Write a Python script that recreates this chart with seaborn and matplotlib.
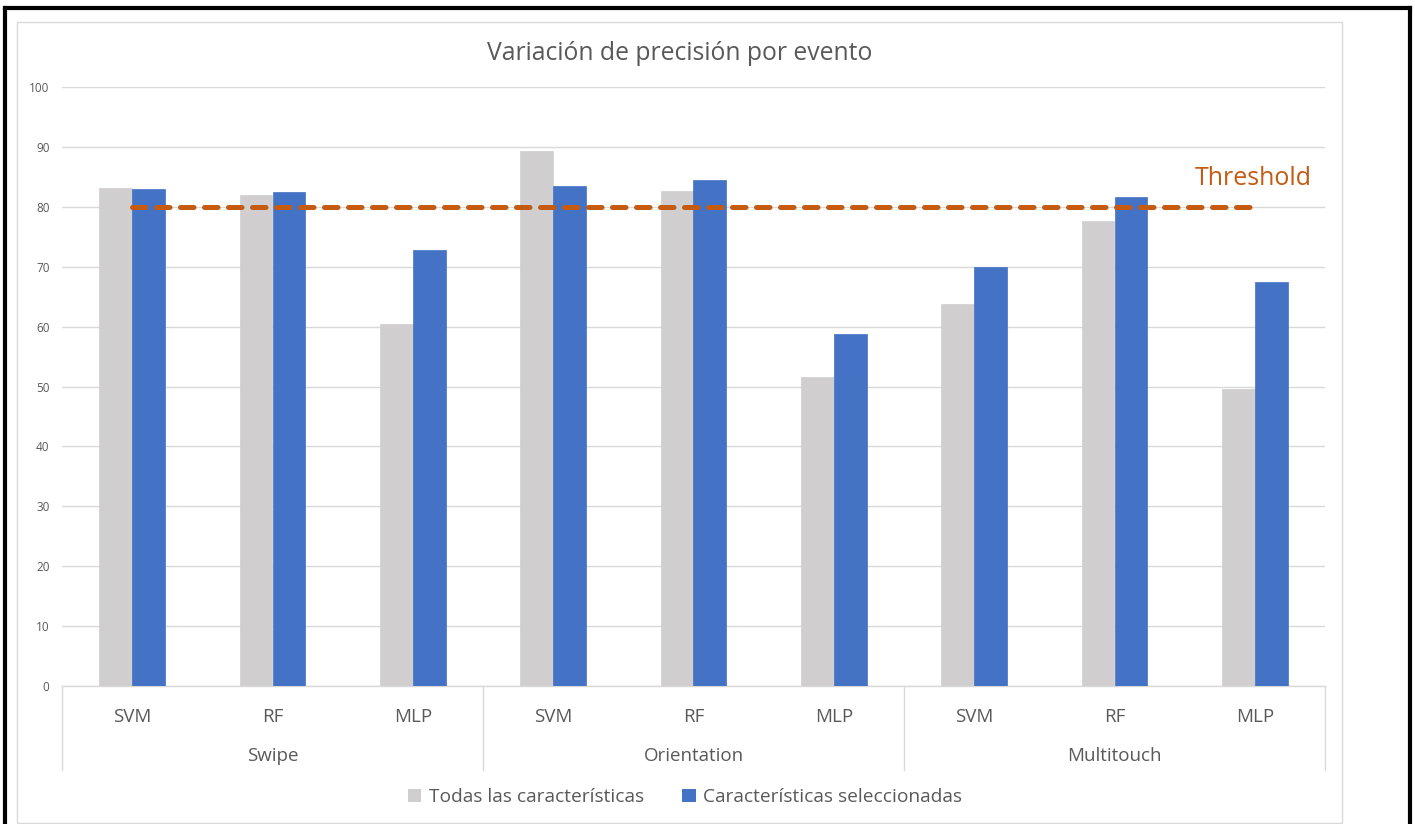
import matplotlib
matplotlib.use("Agg")
import matplotlib.pyplot as plt
import matplotlib.transforms as mtransforms
from matplotlib.patches import Rectangle
from matplotlib.lines import Line2D
import seaborn as sns
import pandas as pd

# ---------------- data ----------------
events = ["Swipe", "Orientation", "Multitouch"]
models = ["SVM", "RF", "MLP"]
series = ["Todas las características", "Características seleccionadas"]
todas = [83.2, 81.9, 60.4, 89.3, 82.6, 51.6, 63.8, 77.6, 49.6]
seleccionadas = [82.9, 82.4, 72.8, 83.5, 84.4, 58.8, 70.0, 81.6, 67.4]
threshold = 80
threshold_label = "Threshold"
yticks = list(range(0, 101, 10))
title = "Variación de precisión por evento"

# ---------------- style ----------------
sns.set_style("white")
plt.rcParams["font.family"] = ["Open Sans", "DejaVu Sans"]
TXT = "#595959"
GRID = "#D9D9D9"
colors = ["#D0CECE", "#4472C4"]
ORANGE = "#C55A11"

cats = [f"{e}|{m}" for e in events for m in models]
rows = []
for c, v1, v2 in zip(cats, todas, seleccionadas):
    rows.append({"cat": c, "serie": series[0], "value": v1})
    rows.append({"cat": c, "serie": series[1], "value": v2})
df = pd.DataFrame(rows)

W, H = 1415, 824
fig = plt.figure(figsize=(W / 100, H / 100), dpi=100)
ax_l, ax_r, ax_t, ax_b = 62, 1325, 87, 686
ax = fig.add_axes([ax_l / W, 1 - ax_b / H, (ax_r - ax_l) / W, (ax_b - ax_t) / H])

sns.barplot(data=df, x="cat", y="value", hue="serie", order=cats,
            hue_order=series, palette=colors, width=0.47, saturation=1,
            errorbar=None, legend=False, ax=ax, zorder=3)
for p in ax.patches:
    p.set_edgecolor(p.get_facecolor())
    p.set_linewidth(0.5)

ax.set_xlim(-0.5, len(cats) - 0.5)
ax.set_ylim(0, 100)
ax.set_yticks(yticks)
ax.set_yticklabels([str(t) for t in yticks])
ax.tick_params(axis="y", length=0, pad=9, labelsize=8.5, labelcolor=TXT)
ax.set_xticks(range(len(cats)))
ax.set_xticklabels(models * len(events))
ax.tick_params(axis="x", length=0, pad=16, labelsize=13.5, labelcolor=TXT)
ax.set_xlabel("")
ax.set_ylabel("")
ax.grid(axis="y", color=GRID, linewidth=1, zorder=0)
ax.set_axisbelow(True)
for s in ["top", "right", "left"]:
    ax.spines[s].set_visible(False)
ax.spines["bottom"].set_color(GRID)
ax.spines["bottom"].set_linewidth(1)

# threshold line
ax.plot([0, len(cats) - 1], [threshold, threshold], color=ORANGE,
        linewidth=3.6, linestyle=(0, (2.7, 2.1)), dash_capstyle="round",
        solid_capstyle="round", zorder=5)
ax.text(7.57, threshold + 4.7, threshold_label, color=ORANGE, fontsize=18,
        ha="left", va="center")

# group labels and separators
trans = mtransforms.blended_transform_factory(ax.transData, ax.transAxes)
axh = ax_b - ax_t
for i, e in enumerate(events):
    ax.annotate(e, xy=(i * 3 + 1, 0), xycoords=trans, xytext=(0, -70),
                textcoords="offset pixels", ha="center", va="center",
                fontsize=13.5, color=TXT)
for xs in [-0.5, 2.5, 5.5, 8.5]:
    ax.plot([xs, xs], [0, -84 / axh], transform=trans, color=GRID,
            linewidth=1, clip_on=False)

# title
fig.text(680 / W, 1 - 53 / H, title, ha="center", va="center",
         fontsize=17.8, color=TXT)

# legend
handles = [Rectangle((0, 0), 1, 1, facecolor=c, edgecolor="none") for c in colors]
fig.legend(handles, series, loc="center", bbox_to_anchor=(685 / W, 1 - 797 / H),
           ncol=2, frameon=False, handlelength=0.7, handleheight=0.7,
           handletextpad=0.4, columnspacing=2.0, fontsize=13.8, labelcolor=TXT)

# frames
fig.add_artist(Rectangle((17 / W, 1 - 823 / H), (1342 - 17) / W, (823 - 22) / H,
                         transform=fig.transFigure, fill=False,
                         edgecolor=GRID, linewidth=1))
blk = dict(color="black", linewidth=3, transform=fig.transFigure,
           solid_capstyle="projecting")
fig.add_artist(Line2D([4.8 / W, 4.8 / W], [0, 1 - 7.5 / H], **blk))
fig.add_artist(Line2D([4.8 / W, 1409.5 / W], [1 - 7.5 / H, 1 - 7.5 / H], **blk))
fig.add_artist(Line2D([1409.5 / W, 1409.5 / W], [0, 1 - 7.5 / H], **blk))

fig.savefig("out.png", dpi=100)
